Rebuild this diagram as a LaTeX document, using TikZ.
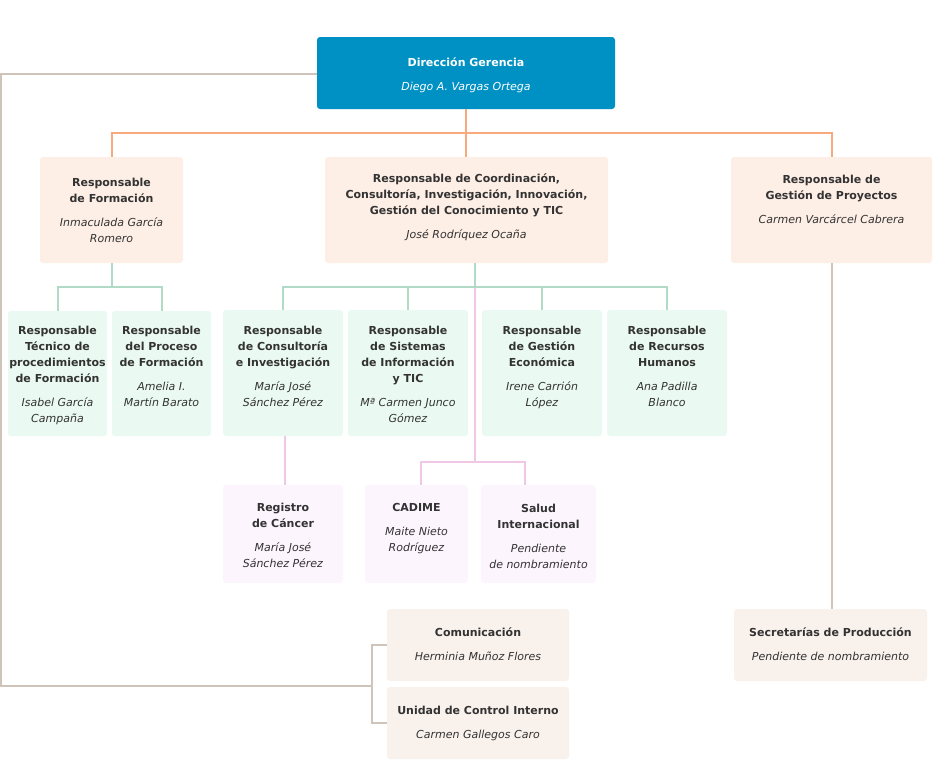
\documentclass[tikz,border=0pt]{standalone}
\usepackage{fontspec}
\setmainfont{DejaVu Sans}
\definecolor{dgc}{HTML}{0091C4}
\definecolor{orl}{HTML}{F9AA7D}
\definecolor{fa}{HTML}{FDEEE6}
\definecolor{gnl}{HTML}{B2DBC7}
\definecolor{fb}{HTML}{EAF9F1}
\definecolor{pkl}{HTML}{F0C8E6}
\definecolor{fc}{HTML}{FDF5FD}
\definecolor{grl}{HTML}{CFC4BA}
\definecolor{fd}{HTML}{F9F1EC}
\definecolor{txc}{HTML}{333333}
\tikzset{
  bx/.style={rectangle, rounded corners=3pt, inner sep=0pt, draw=none},
  tx/.style={anchor=north, inner sep=0pt, align=center, text=txc, font=\fontsize{11}{16}\selectfont},
  lor/.style={draw=orl, line width=2pt},
  lgn/.style={draw=gnl, line width=2pt},
  lpk/.style={draw=pkl, line width=2pt},
  lgr/.style={draw=grl, line width=2pt},
}
% name, x1, y1, x2, y2, box style, first text line y, text style, content
\newcommand\obox[9]{%
  \node[bx,#6,minimum width={#4-#2},minimum height={#5-#3}] (#1) at ({(#2+#4)/2},{(#3+#5)/2}) {};
  \node[tx,#8] (#1-t) at ({(#2+#4)/2},{#7-7.2}) {\strut #9};
}
\begin{document}
\begin{tikzpicture}[x=1pt,y=-1pt]
\useasboundingbox (0,0) rectangle (940,772);
\obox{dg}{317}{37}{615}{109}{fill=dgc}{62}{text=white}{\textbf{Dirección Gerencia}\\[8pt]\textit{Diego A. Vargas Ortega}}
\obox{form}{40}{157}{183}{263}{fill=fa}{182}{}{\textbf{Responsable}\\\textbf{de Formación}\\[8pt]\textit{Inmaculada García}\\\textit{Romero}}
\obox{coord}{325}{157}{608}{263}{fill=fa}{178.5}{}{\textbf{Responsable de Coordinación,}\\\textbf{Consultoría, Investigación, Innovación,}\\\textbf{Gestión del Conocimiento y TIC}\\[8pt]\textit{José Rodríquez Ocaña}}
\obox{proy}{731}{157}{932}{263}{fill=fa}{179}{}{\textbf{Responsable de}\\\textbf{Gestión de Proyectos}\\[8pt]\textit{Carmen Varcárcel Cabrera}}
\obox{tec}{8}{311}{107}{436}{fill=fb}{330}{}{\textbf{Responsable}\\\textbf{Técnico de}\\\textbf{procedimientos}\\\textbf{de Formación}\\[8pt]\textit{Isabel García}\\\textit{Campaña}}
\obox{proc}{112}{311}{211}{436}{fill=fb}{330}{}{\textbf{Responsable}\\\textbf{del Proceso}\\\textbf{de Formación}\\[8pt]\textit{Amelia I.}\\\textit{Martín Barato}}
\obox{cons}{223}{310}{343}{436}{fill=fb}{330}{}{\textbf{Responsable}\\\textbf{de Consultoría}\\\textbf{e Investigación}\\[8pt]\textit{María José}\\\textit{Sánchez Pérez}}
\obox{sis}{348}{310}{468}{436}{fill=fb}{330}{}{\textbf{Responsable}\\\textbf{de Sistemas}\\\textbf{de Información}\\\textbf{y TIC}\\[8pt]\textit{Mª Carmen Junco}\\\textit{Gómez}}
\obox{gest}{482}{310}{602}{436}{fill=fb}{330}{}{\textbf{Responsable}\\\textbf{de Gestión}\\\textbf{Económica}\\[8pt]\textit{Irene Carrión}\\\textit{López}}
\obox{rrhh}{607}{310}{727}{436}{fill=fb}{330}{}{\textbf{Responsable}\\\textbf{de Recursos}\\\textbf{Humanos}\\[8pt]\textit{Ana Padilla}\\\textit{Blanco}}
\obox{reg}{223}{485}{343}{583}{fill=fc}{507}{}{\textbf{Registro}\\\textbf{de Cáncer}\\[8pt]\textit{María José}\\\textit{Sánchez Pérez}}
\obox{cad}{365}{485}{468}{583}{fill=fc}{507}{}{\textbf{CADIME}\\[8pt]\textit{Maite Nieto}\\\textit{Rodríguez}}
\obox{sal}{481}{485}{596}{583}{fill=fc}{508}{}{\textbf{Salud}\\\textbf{Internacional}\\[8pt]\textit{Pendiente}\\\textit{de nombramiento}}
\obox{com}{387}{609}{569}{681}{fill=fd}{632}{}{\textbf{Comunicación}\\[8pt]\textit{Herminia Muñoz Flores}}
\obox{uni}{387}{687}{569}{759}{fill=fd}{710}{}{\textbf{Unidad de Control Interno}\\[8pt]\textit{Carmen Gallegos Caro}}
\obox{sec}{734}{609}{927}{681}{fill=fd}{632}{}{\textbf{Secretarías de Producción}\\[8pt]\textit{Pendiente de nombramiento}}
% orange connectors
\coordinate (oj) at (466,133);
\draw[lor] (dg.south) -- (oj);
\draw[lor] (form.north) |- (oj) -| (proy.north);
\draw[lor] (oj) -- (oj |- coord.north);
% grey connectors
\coordinate (gc) at (1,686);
\coordinate (gb) at (372,686);
\draw[lgr] ([yshift=-1pt]dg.west) -| (gc) -- (gb);
\draw[lgr] (com.west) -| (gb) |- (uni.west);
\draw[lgr] (proy.south) -- (proy.south |- sec.north);
% pink connectors
\coordinate (cj) at (475,287);
\coordinate (cj2) at (475,288);
\coordinate (pj) at (475,462);
\draw[lpk] (cj2) -- (pj);
\draw[lpk] ([xshift=4.5pt]cad.north) |- (pj) -| ([xshift=-13.5pt]sal.north);
\draw[lpk] ([xshift=2pt]cons.south) -- ([xshift=2pt]reg.north);
% green connectors
\coordinate (fj) at (111.5,287);
\draw[lgn] (form.south) -- (fj);
\draw[lgn] (tec.north) |- (fj) -| (proc.north);
\draw[lgn] (coord.south -| cj) -- (cj);
\draw[lgn] (cons.north) |- (cj) -| (rrhh.north);
\draw[lgn] (sis.north) -- (sis.north |- cj);
\draw[lgn] (gest.north) -- (gest.north |- cj);
\end{tikzpicture}
\end{document}
